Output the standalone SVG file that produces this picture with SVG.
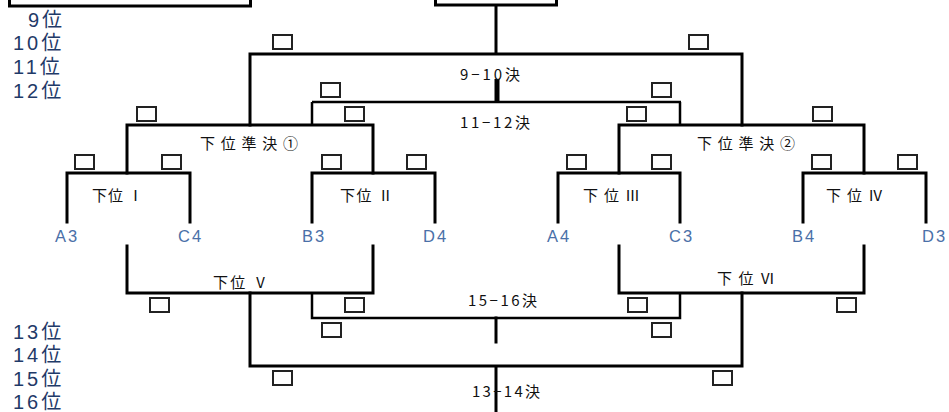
<svg xmlns="http://www.w3.org/2000/svg" width="949" height="412" viewBox="0 0 949 412">
<style>
.ln{stroke:#000;stroke-width:3;fill:none;stroke-linecap:square}
.thin{stroke:#000;stroke-width:2.5;fill:none}
.bx{fill:#fff;stroke:#222;stroke-width:2}
.lbl{font-family:"Noto Sans CJK JP","Liberation Sans",sans-serif;font-size:15px;fill:#111}
.team{font-family:"Liberation Sans","Noto Sans",sans-serif;font-size:16.5px;letter-spacing:2px;fill:#4a70a8}
.rank{font-family:"Liberation Sans","Noto Sans CJK JP",sans-serif;font-size:20px;letter-spacing:3px;fill:#1f3a68}
</style>
<defs><rect id="b" class="bx" width="19" height="14"/></defs>
<rect width="949" height="412" fill="#fff"/>

<g id="header">
<rect x="9.5" y="-20" width="241" height="26" fill="#fff" stroke="#000" stroke-width="3"/>
<rect x="435.5" y="-20" width="121" height="25" fill="#fff" stroke="#000" stroke-width="3"/>
</g>

<g id="connectors">
<path class="ln" d="M496,6V54M250,54H742M250,54V125M742,54V125"/>
<path stroke="#000" stroke-width="5" d="M497,79V102"/>
<path class="thin" d="M312,102H681M312,102V125M680,102V125"/>
<path class="ln" d="M127,125H373M127,125V173M373,125V173M619,125H864M619,125V173M864,125V173"/>
<path class="ln" d="M67,173H190M67,173V222M190,173V222M312,173H435M312,173V222M435,173V222M558,173H680M558,173V222M680,173V222M803,173H926M803,173V222M926,173V222"/>
<path class="ln" d="M127,246V293H373V246M619,246V293H864V246"/>
<path class="thin" d="M312,293V318H680V293"/>
<path class="ln" d="M496,318V342"/>
<path class="ln" d="M250,293V366H742V293M496,366V412"/>
</g>

<g id="m910"><use href="#b" x="273" y="35"/><use href="#b" x="689" y="35"/><text class="lbl" x="460" y="80" textLength="60" lengthAdjust="spacing">9−10決</text></g>
<g id="m1112"><use href="#b" x="321" y="83"/><use href="#b" x="652" y="83"/><text class="lbl" x="460" y="128" textLength="70" lengthAdjust="spacing">11−12決</text></g>
<g id="semi1"><use href="#b" x="137" y="107"/><use href="#b" x="345" y="107"/><text class="lbl" x="200" y="149" textLength="98" lengthAdjust="spacing">下位準決①</text></g>
<g id="semi2"><use href="#b" x="627" y="107"/><use href="#b" x="813" y="107"/><text class="lbl" x="697" y="149" textLength="98" lengthAdjust="spacing">下位準決②</text></g>
<g id="r1"><use href="#b" x="75" y="155"/><use href="#b" x="162" y="155"/><text class="lbl" x="92" y="201" textLength="51" lengthAdjust="spacing">下位 Ⅰ</text></g>
<g id="r2"><use href="#b" x="322" y="155"/><use href="#b" x="407" y="155"/><text class="lbl" x="340" y="201" textLength="53" lengthAdjust="spacing">下位 Ⅱ</text></g>
<g id="r3"><use href="#b" x="567" y="155"/><use href="#b" x="652" y="155"/><text class="lbl" x="583" y="201" textLength="57" lengthAdjust="spacing">下位Ⅲ</text></g>
<g id="r4"><use href="#b" x="812" y="155"/><use href="#b" x="898" y="155"/><text class="lbl" x="826" y="201" textLength="57" lengthAdjust="spacing">下位Ⅳ</text></g>
<g id="r5"><use href="#b" x="150" y="298"/><use href="#b" x="345" y="298"/><text class="lbl" x="213" y="288" textLength="55" lengthAdjust="spacing">下位 Ⅴ</text></g>
<g id="r6"><use href="#b" x="628" y="298"/><use href="#b" x="837" y="298"/><text class="lbl" x="717" y="284" textLength="58" lengthAdjust="spacing">下位Ⅵ</text></g>
<g id="m1516"><use href="#b" x="322" y="323"/><use href="#b" x="652" y="323"/><text class="lbl" x="468" y="306" textLength="69" lengthAdjust="spacing">15−16決</text></g>
<g id="m1314"><use href="#b" x="273" y="371"/><use href="#b" x="713" y="371"/><text class="lbl" x="472" y="397" textLength="68" lengthAdjust="spacing">13−14決</text></g>

<g id="teams">
<text class="team" x="55" y="242">A3</text>
<text class="team" x="178" y="242">C4</text>
<text class="team" x="302" y="242">B3</text>
<text class="team" x="423" y="242">D4</text>
<text class="team" x="547" y="242">A4</text>
<text class="team" x="669" y="242">C3</text>
<text class="team" x="792" y="242">B4</text>
<text class="team" x="922" y="242">D3</text>
</g>

<g id="ranks">
<text class="rank" x="28" y="27">9位</text>
<text class="rank" x="13" y="50">10位</text>
<text class="rank" x="13" y="74">11位</text>
<text class="rank" x="13" y="98">12位</text>
<text class="rank" x="13" y="339">13位</text>
<text class="rank" x="13" y="362">14位</text>
<text class="rank" x="13" y="386">15位</text>
<text class="rank" x="13" y="409">16位</text>
</g>
</svg>
